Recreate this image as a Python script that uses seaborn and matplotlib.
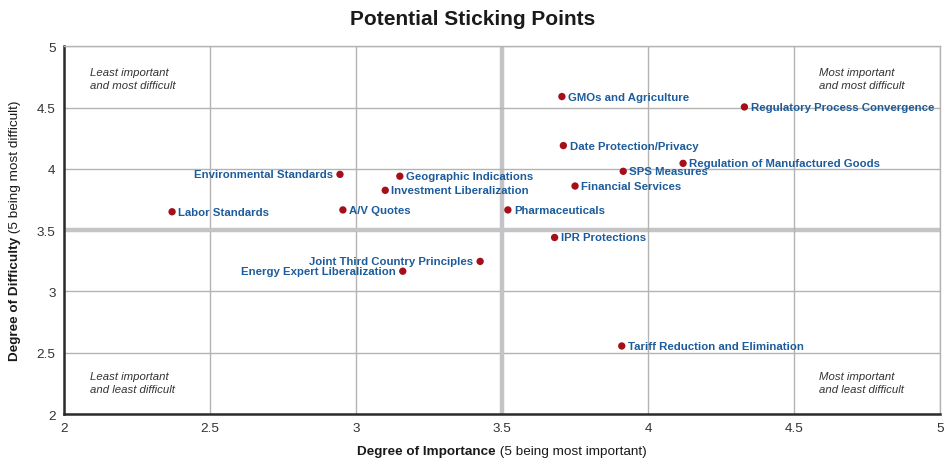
import matplotlib
matplotlib.use("Agg")
import matplotlib.pyplot as plt
import seaborn as sns
import pandas as pd

# Sticking points: importance (x) vs. difficulty (y)
topics = [
    "Labor Standards", "Environmental Standards", "A/V Quotes",
    "Geographic Indications", "Investment Liberalization", "Pharmaceuticals",
    "GMOs and Agriculture", "Date Protection/Privacy",
    "Regulatory Process Convergence", "Regulation of Manufactured Goods",
    "SPS Measures", "Financial Services", "IPR Protections",
    "Joint Third Country Principles", "Energy Expert Liberalization",
    "Tariff Reduction and Elimination",
]
importance = [2.37, 2.945, 2.955, 3.15, 3.10, 3.52, 3.705, 3.71,
              4.33, 4.12, 3.915, 3.75, 3.68, 3.425, 3.16, 3.91]
difficulty = [3.65, 3.955, 3.665, 3.94, 3.825, 3.665, 4.59, 4.19,
              4.505, 4.045, 3.98, 3.86, 3.44, 3.245, 3.165, 2.555]
left_labeled = {"Environmental Standards", "Joint Third Country Principles",
                "Energy Expert Liberalization"}

ticks = [2, 2.5, 3, 3.5, 4, 4.5, 5]
tick_labels = ["2", "2.5", "3", "3.5", "4", "4.5", "5"]

quadrant_notes = [
    (0.03, 0.943, "Least important\nand most difficult"),
    (0.862, 0.943, "Most important\nand most difficult"),
    (0.03, 0.118, "Least important\nand least difficult"),
    (0.862, 0.118, "Most important\nand least difficult"),
]

df = pd.DataFrame({"topic": topics, "importance": importance,
                   "difficulty": difficulty})

sns.set_theme(style="white")
plt.rcParams["font.family"] = ["Liberation Sans", "DejaVu Sans"]

fig = plt.figure(figsize=(9.46, 4.64), dpi=100)
ax = fig.add_axes([0.0677, 0.1056, 0.926, 0.7925])

grid_c = "#b3b3b3"
for t in ticks:
    if t == 3.5:
        ax.axvline(t, color="#c4c4c6", lw=3.2, zorder=1)
        ax.axhline(t, color="#c4c4c6", lw=3.2, zorder=1)
    else:
        ax.axvline(t, color=grid_c, lw=1.0, zorder=1)
        ax.axhline(t, color=grid_c, lw=1.0, zorder=1)

sns.scatterplot(data=df, x="importance", y="difficulty", ax=ax,
                color="#a50f1a", s=28, edgecolor="none", zorder=3,
                legend=False)

label_c = "#1d5c9c"
for t, xv, yv in zip(topics, importance, difficulty):
    if t in left_labeled:
        ax.annotate(t, (xv, yv), xytext=(-5, 0), textcoords="offset points",
                    ha="right", va="center", fontsize=8.2, fontweight="bold",
                    color=label_c, zorder=4)
    else:
        ax.annotate(t, (xv, yv), xytext=(4.5, 0), textcoords="offset points",
                    ha="left", va="center", fontsize=8.2, fontweight="bold",
                    color=label_c, zorder=4)

for qx, qy, txt in quadrant_notes:
    ax.text(qx, qy, txt, transform=ax.transAxes, ha="left", va="top",
            fontsize=8.2, style="italic", color="#333333", linespacing=1.38)

ax.set_xlim(2, 5)
ax.set_ylim(2, 5)
ax.set_xticks(ticks)
ax.set_xticklabels(tick_labels)
ax.set_yticks(ticks)
ax.set_yticklabels(tick_labels)
ax.tick_params(axis="both", length=0, labelsize=9.7, colors="#333333")
ax.tick_params(axis="x", pad=6)
ax.tick_params(axis="y", pad=6)
ax.set_xlabel("")
ax.set_ylabel("")

for side in ["top", "right"]:
    ax.spines[side].set_color(grid_c)
    ax.spines[side].set_linewidth(1.0)
for side in ["left", "bottom"]:
    ax.spines[side].set_color("#2b2b2b")
    ax.spines[side].set_linewidth(1.8)

fig.text(0.5, 0.958, "Potential Sticking Points", ha="center", va="center",
         fontsize=15, fontweight="bold", color="#1a1a1a")

# Axis titles with a bold lead-in and a regular note
fig.canvas.draw()
renderer = fig.canvas.get_renderer()

xb = fig.text(0, 0.025, "Degree of Importance", fontsize=9.7,
              fontweight="bold", color="#1a1a1a", va="center", ha="left")
xn = fig.text(0, 0.025, " (5 being most important)", fontsize=9.7,
              color="#1a1a1a", va="center", ha="left")
wb = xb.get_window_extent(renderer).width / fig.bbox.width
wn = xn.get_window_extent(renderer).width / fig.bbox.width
x0 = 0.5307 - (wb + wn) / 2
xb.set_x(x0)
xn.set_x(x0 + wb)

yb = fig.text(0.016, 0, "Degree of Difficulty", fontsize=9.7,
              fontweight="bold", color="#1a1a1a", va="center", ha="center",
              rotation=90, rotation_mode="anchor")
yn = fig.text(0.016, 0, " (5 being most difficult)", fontsize=9.7,
              color="#1a1a1a", va="center", ha="center", rotation=90,
              rotation_mode="anchor")
hb = yb.get_window_extent(renderer).height / fig.bbox.height
hn = yn.get_window_extent(renderer).height / fig.bbox.height
yc = 0.5019
y0 = yc - (hb + hn) / 2
yb.set_y(y0 + hb / 2)
yn.set_y(y0 + hb + hn / 2)

fig.savefig("out.png", dpi=100)
